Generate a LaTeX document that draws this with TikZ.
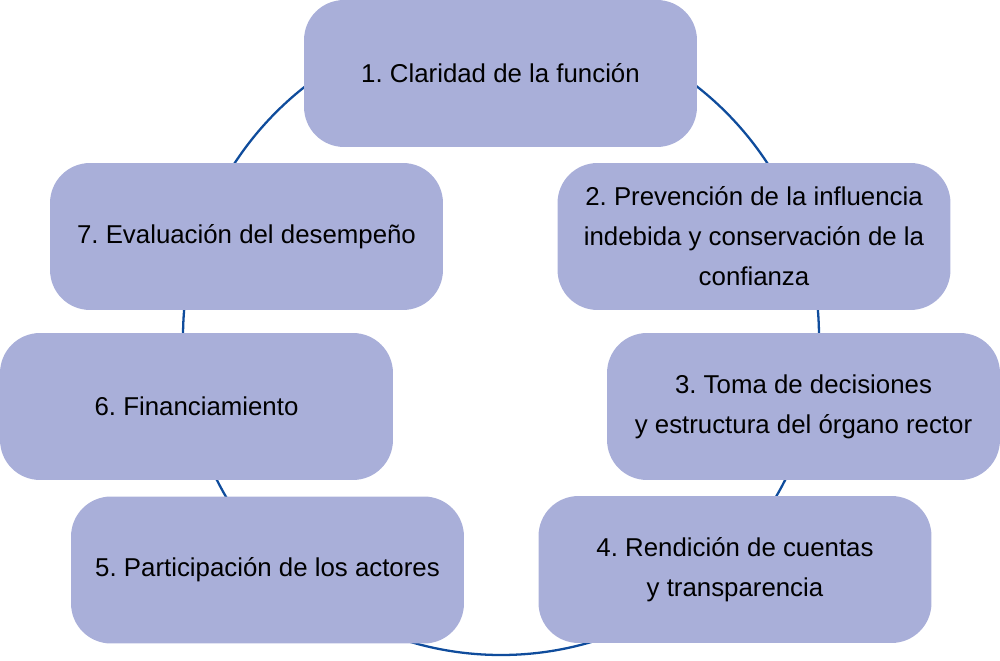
\documentclass[tikz,border=0pt]{standalone}
\usepackage{fontspec}
\setmainfont{Liberation Sans}
\usepackage{xcolor}
\usepackage{tikz}
\usetikzlibrary{positioning}
\definecolor{boxfill}{HTML}{A9AFD9}
\definecolor{ringblue}{HTML}{0F4C9C}
\frenchspacing

\begin{document}
\begin{tikzpicture}[
  x=0.02cm, y=-0.02cm,
  pillar/.style={fill=boxfill, rounded corners=0.8cm, align=center,
                 minimum width=7.86cm, minimum height=2.94cm, inner sep=0pt,
                 font=\fontsize{14.7}{22.7}\selectfont},
  ring/.style={draw=ringblue, line width=1.3pt},
]
\useasboundingbox (0,0) rectangle (1000,661);
\coordinate (ctr) at (501,337);
\draw[ring] (ctr) circle[radius=318*0.02cm];
\node[pillar] (clar) at (500.5,73.5) {1. Claridad de la función};
\node[pillar] (prev) at (754,236.5) {2. Prevención de la influencia\\
  indebida y conservación de la\\ confianza};
\node[pillar] (toma) at (803.5,406.5) {3. Toma de decisiones\\
  y estructura del órgano rector};
\node[pillar] (rend) at (735,569.5) {4. Rendición de cuentas\\ y transparencia};
\node[pillar] (part) at (267.5,570) {5. Participación de los actores};
\node[pillar] (fina) at (196.5,406.5) {6. Financiamiento};
\node[pillar] (eval) at (246.5,236.5) {7. Evaluación del desempeño};
\end{tikzpicture}
\end{document}
